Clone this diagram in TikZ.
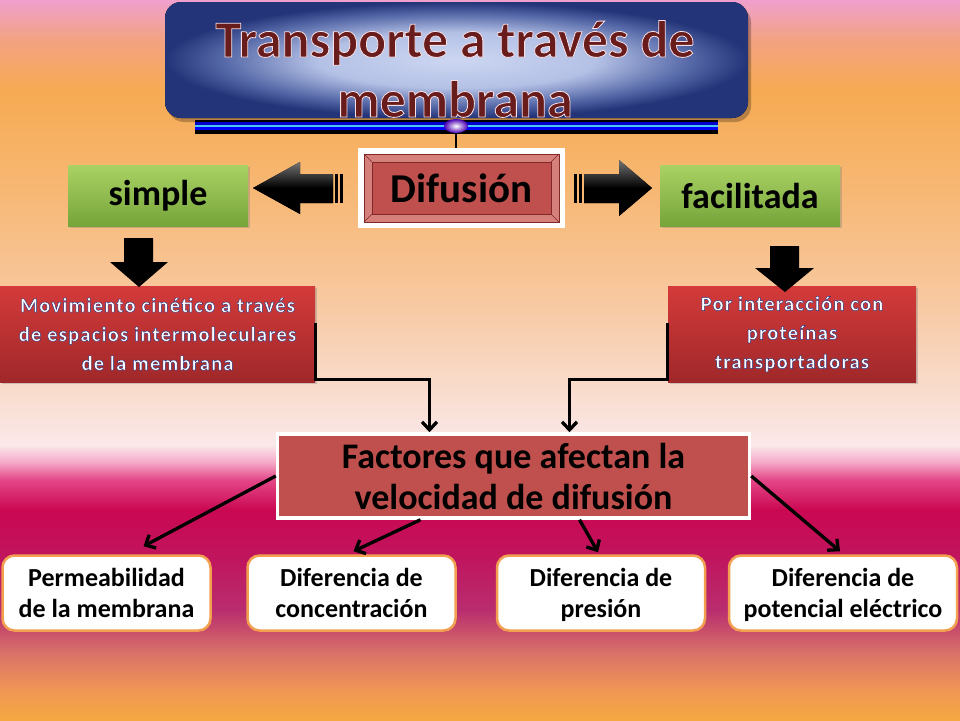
\documentclass[tikz,border=0pt]{standalone}
\usepackage{fontspec}
\setmainfont{Carlito}
\newfontfamily\spacedfont[LetterSpace=6]{Carlito}
\usetikzlibrary{arrows.meta,calc,shadows}
\newcommand{\outlined}[3]{\special{pdf:literal direct 2 Tr #2 w #1 RG}#3\special{pdf:literal direct 0 Tr}}
\newcommand{\topstrut}{\rule{0pt}{27.5pt}}
\definecolor{b00}{RGB}{245,168,64}
\definecolor{b01}{RGB}{240,150,85}
\definecolor{b02}{RGB}{215,110,105}
\definecolor{b03}{RGB}{185,45,110}
\definecolor{b04}{RGB}{192,22,95}
\definecolor{b05}{RGB}{202,8,82}
\definecolor{b06}{RGB}{228,70,135}
\definecolor{b07}{RGB}{245,170,200}
\definecolor{b08}{RGB}{251,232,234}
\definecolor{b09}{RGB}{249,222,210}
\definecolor{b10}{RGB}{248,200,160}
\definecolor{b11}{RGB}{247,185,120}
\definecolor{b12}{RGB}{246,170,82}
\definecolor{b13}{RGB}{243,162,130}
\definecolor{b14}{RGB}{240,160,205}
\pgfdeclareverticalshading{bgshade}{100bp}{%
color(0bp)=(b00); color(25bp)=(b00); color(27.08bp)=(b01); color(29.86bp)=(b02);
color(32.64bp)=(b03); color(36.11bp)=(b04); color(39.58bp)=(b05); color(41.67bp)=(b06);
color(42.92bp)=(b07); color(44.1bp)=(b08); color(47.22bp)=(b09); color(54.17bp)=(b10);
color(61.11bp)=(b11); color(68.75bp)=(b12); color(72.22bp)=(b13); color(75bp)=(b14); color(100bp)=(b14)}
\definecolor{navy}{RGB}{35,52,120}
\definecolor{lightblue}{RGB}{205,215,242}
\definecolor{midblue}{RGB}{120,140,200}
\pgfdeclareradialshading{titleshade}{\pgfpoint{0bp}{0bp}}{%
color(0bp)=(lightblue); color(12bp)=(lightblue!70!midblue); color(20bp)=(midblue!60!navy); color(25bp)=(navy); color(50bp)=(navy)}
\definecolor{titletxt}{RGB}{105,28,28}
\definecolor{facered}{RGB}{192,80,77}
\definecolor{bevel}{RGB}{214,128,124}
\definecolor{darkred}{RGB}{130,40,40}
\definecolor{gtop}{RGB}{170,210,100}
\definecolor{gbot}{RGB}{118,164,58}
\definecolor{rtop}{RGB}{212,58,58}
\definecolor{rbot}{RGB}{160,40,42}
\definecolor{orangeb}{RGB}{242,160,80}
\tikzset{
  greenbox/.style={shading=axis, top color=gtop, bottom color=gbot, inner sep=0pt,
    font=\fontsize{36}{40}\selectfont\bfseries, text=black,
    drop shadow={opacity=0.35, shadow xshift=2pt, shadow yshift=-2pt}},
  redbox/.style={shading=axis, top color=rtop, bottom color=rbot, inner sep=0pt, align=center,
    font=\spacedfont\fontsize{20.5}{29}\selectfont\bfseries, text=white,
    drop shadow={opacity=0.35, shadow xshift=2pt, shadow yshift=-2pt}},
  whitebox/.style={fill=white, draw=orangeb, line width=2.5pt, rounded corners=12pt, inner sep=0pt,
    align=center, font=\fontsize{26}{31}\selectfont\bfseries, text=black},
  conn/.style={line width=3.3pt, black, -{Straight Barb[length=8pt,width=15pt]}},
  blockarrow/.style={shading=axis, top color=black!55, bottom color=black, middle color=black},
}
\begin{document}
\begin{tikzpicture}[x=1pt,y=-1pt]
\useasboundingbox (0,0) rectangle (960,720);
% background
\fill[shading=bgshade] (0,0) rectangle (960,720);

% title box
\fill[black, opacity=0.25, rounded corners=16pt] (168,6) rectangle (751,122);
\fill[shading=titleshade, rounded corners=16pt] (165,2) rectangle (748,118);
\node[font=\fontsize{52}{60}\selectfont\bfseries, text=titletxt, align=center, inner sep=0pt] (title) at (455,69)
  {\outlined{0.97 0.88 0.9}{0.8}{Transporte a través de\\membrana}};

% blue bar
\fill[black] (195,120) rectangle (718,134);
\fill[blue!80!black] (195,122) rectangle (718,125);
\fill[cyan!70!white] (195,125) rectangle (718,127);
\fill[blue] (195,127) rectangle (718,130);
\shade[inner color=white, outer color=violet!60!blue] (456,126) ellipse (12pt and 7pt);
\coordinate (barc) at (456,133);

% Difusion
\node[fill=white, minimum width=207pt, minimum height=80pt, inner sep=0pt,
  font=\fontsize{41}{44}\selectfont\bfseries, text=black,
  path picture={
    \fill[bevel] ($(path picture bounding box.north west)+(6,6)$) rectangle ($(path picture bounding box.south east)+(-6,-6)$);
    \draw[darkred, line width=0.6pt] ($(path picture bounding box.north west)+(6,6)$) rectangle ($(path picture bounding box.south east)+(-6,-6)$);
    \draw[darkred, line width=0.6pt] ($(path picture bounding box.north west)+(6,6)$) -- ($(path picture bounding box.north west)+(14,14)$)
      ($(path picture bounding box.north east)+(-6,6)$) -- ($(path picture bounding box.north east)+(-14,14)$)
      ($(path picture bounding box.south west)+(6,-6)$) -- ($(path picture bounding box.south west)+(14,-14)$)
      ($(path picture bounding box.south east)+(-6,-6)$) -- ($(path picture bounding box.south east)+(-14,-14)$);
    \fill[facered, draw=darkred, line width=0.8pt] ($(path picture bounding box.north west)+(14,14)$) rectangle ($(path picture bounding box.south east)+(-14,-14)$);
  }] (dif) at (461.5,188) {Difusión};
\draw[black, line width=2.5pt] (barc) -- (barc |- dif.north);

% green boxes
\node[greenbox, minimum width=180pt, minimum height=61pt] (simple) at (158,195.5) {simple};
\node[greenbox, minimum width=180pt, minimum height=61pt] (facil) at (750,195.5) {facilitada};

% horizontal block arrows
\fill[blockarrow] (253,188) -- (300,162) -- (300,174) -- (333,174) -- (333,203) -- (300,203) -- (300,214) -- cycle;
\fill[black] (335,174) rectangle (338,203);
\fill[black] (340,174) rectangle (343,203);
\fill[blockarrow] (652,188) -- (619,160) -- (619,174) -- (584,174) -- (584,203) -- (619,203) -- (619,216) -- cycle;
\fill[black] (579,174) rectangle (582,203);
\fill[black] (574,174) rectangle (577,203);

% red boxes
\node[redbox, minimum width=315pt, minimum height=96pt] (mov) at (157.5,334)
  {\outlined{0.15 0.2 0.5}{0.45}{Movimiento cinético a través\\de espacios intermoleculares\\de la membrana}};
\node[redbox, minimum width=248pt, minimum height=96pt] (por) at (792,334)
  {\outlined{0.15 0.2 0.5}{0.45}{Por interacción con\\proteínas\\transportadoras}};

% vertical block arrows
\fill[black] (124,238) -- (153,238) -- (153,262) -- (168,262) -- (139,287) -- (110,262) -- (124,262) -- cycle;
\fill[black] (770,246) -- (799,246) -- (799,268) -- (814,268) -- (785,292) -- (755,268) -- (770,268) -- cycle;

% factores
\node[fill=facered, draw=white, line width=3.5pt, minimum width=472pt, minimum height=84pt, inner sep=0pt,
  align=center, font=\fontsize{36}{41}\selectfont\bfseries, text=black] (fact) at (513.5,476)
  {Factores que afectan la\\velocidad de difusión};

% elbow connectors
\draw[conn] ($(mov.east)+(0,-11)$) -- ($(mov.south east)+(0,-3)$) -| ($(fact.north)+(-84,0)$);
\draw[conn] ($(por.west)+(0,-11)$) -- ($(por.south west)+(0,-3)$) -| ($(fact.north)+(56,0)$);

% bottom boxes
\node[whitebox, minimum width=208pt, minimum height=75pt] (b1) at (106.5,593) {\topstrut Permeabilidad\\de la membrana\strut};
\node[whitebox, minimum width=208pt, minimum height=75pt] (b2) at (351.5,593) {\topstrut Diferencia de\\concentración\strut};
\node[whitebox, minimum width=208pt, minimum height=75pt] (b3) at (601,593) {\topstrut Diferencia de\\presión\strut};
\node[whitebox, minimum width=228pt, minimum height=75pt] (b4) at (843,593) {\topstrut Diferencia de\\potencial eléctrico\strut};

\draw[conn] (fact.west) -- ($(b1.north)+(37,-8)$);
\draw[conn] ($(fact.south)+(-93,0)$) -- ($(b2.north)+(2,-3)$);
\draw[conn] ($(fact.south)+(66,0)$) -- ($(b3.north)+(-3,-2)$);
\draw[conn] (fact.east) -- ($(b4.north)+(-3,-3)$);
\end{tikzpicture}
\end{document}
